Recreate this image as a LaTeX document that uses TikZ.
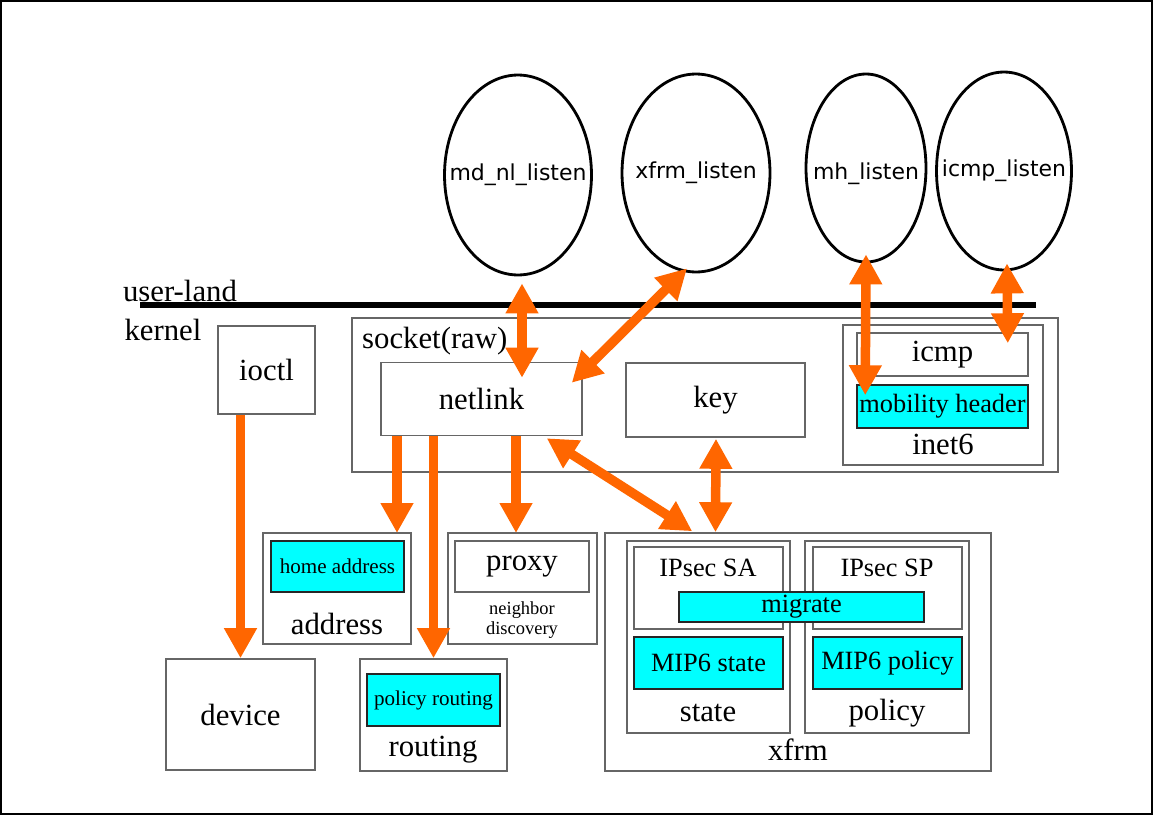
\documentclass[tikz,border=0pt]{standalone}
\usepackage{fontspec}
\setmainfont{Liberation Serif}
\newfontfamily\listenfont{DejaVu Sans}
\usetikzlibrary{positioning,arrows.meta,shapes.geometric,fit,calc}
\definecolor{flow}{HTML}{FF6600}
\definecolor{mip}{HTML}{00FFFF}
\tikzset{
  every node/.style={font=\fontsize{17.5}{21}\selectfont},
  box/.style={
    rectangle, draw=black!60, fill=white,
    line width=0.9pt, inner sep=1pt
  },
  frame/.style={box, inner sep=0pt},
  mipbox/.style={box, draw=black!85, fill=mip},
  listener/.style={ellipse, draw=black, line width=1.6pt, inner sep=0pt},
  listenlbl/.style={font=\listenfont\fontsize{12.5}{15}\selectfont},
  midlbl/.style={font=\fontsize{15}{18}\selectfont},
  smalllbl/.style={font=\fontsize{12}{14}\selectfont},
  tinylbl/.style={font=\fontsize{10.5}{11.5}\selectfont, align=center},
  flowarrow/.style={
    -{Triangle[length=0.6cm,width=0.62cm]},
    line width=0.19cm, draw=flow
  },
  bothways/.style={
    flowarrow,
    {Triangle[length=0.6cm,width=0.62cm]}-{Triangle[length=0.6cm,width=0.62cm]}
  },
}

\begin{document}
\begin{tikzpicture}[x=0.02cm, y=-0.02cm]
  \useasboundingbox (0,0) rectangle (1153,815);
  \draw[line width=0.04cm] (1,1) rectangle (1152,814);
  % user-land daemons
  \node[listener, minimum width=2.94cm, minimum height=4cm, label={[listenlbl]center:md\_nl\_listen}] (mdnl) at (518,175) {};
  \node[listener, minimum width=2.96cm, minimum height=3.96cm, label={[listenlbl]center:xfrm\_listen}] (xfrml) at (696,173) {};
  \node[listener, minimum width=2.4cm, minimum height=3.76cm, label={[listenlbl, yshift=-0.12cm]center:mh\_listen}] (mhl) at (866,168) {};
  \node[listener, minimum width=2.7cm, minimum height=3.96cm, label={[listenlbl]center:icmp\_listen}] (icmpl) at (1004,171) {};
  % border between user-land and kernel
  \coordinate (borderL) at (140,305);
  \coordinate (borderR) at (1036,305);
  \draw[line width=0.12cm] (borderL) -- (borderR);
  \node (userland) at (180,291) {user-land};
  \node (kernel) at (163,330) {kernel};
  % sockets
  \node[box, minimum width=1.94cm, minimum height=1.76cm] (ioctl) at (266.5,370) {ioctl};
  \node[frame, fit={(352,318) (1058,472)}] (socket) {};
  \node[anchor=west] (socketlbl) at (356,341) {socket(raw)};
  \node[box, minimum width=4.02cm, minimum height=1.46cm] (netlink) at (481.5,399) {netlink};
  \node[box, minimum width=3.58cm, minimum height=1.48cm] (key) at (715.5,400) {key};
  \node[frame, fit={(843,325) (1043,465)}] (inet6) {};
  \node[box, minimum width=3.42cm, minimum height=0.86cm] (icmp) at (942.5,354.5) {icmp};
  \node[mipbox, midlbl, minimum width=3.42cm, minimum height=0.86cm] (mobility) at (942.5,406.5) {mobility header};
  \node (inet6lbl) at (943,444) {inet6};
  % kernel subsystems
  \node[box, minimum width=2.98cm, minimum height=2.22cm] (device) at (240.5,714.5) {device};
  \node[frame, fit={(263,533) (411,644)}] (address) {};
  \node[mipbox, smalllbl, minimum width=2.66cm, minimum height=1.02cm] (homeaddr) at (337.5,566.5) {home address};
  \node (addresslbl) at (337,624) {address};
  \node[frame, fit={(448,533) (597,644)}] (proxy) {};
  \node[box, minimum width=2.68cm, minimum height=1.02cm] (proxyin) at (522,566.5) {proxy};
  \node[tinylbl] (ndisc) at (522,620) {neighbor\\discovery};
  \node[frame, fit={(360,659) (507,771)}] (routing) {};
  \node[mipbox, smalllbl, minimum width=2.66cm, minimum height=1.04cm] (polrouting) at (433.5,700) {policy routing};
  \node (routinglbl) at (433,750) {routing};
  % xfrm
  \node[frame, fit={(605,533) (991,771)}] (xfrm) {};
  \node (xfrmlbl) at (798,750) {xfrm};
  \node[frame, fit={(627,541) (790,733)}] (state) {};
  \node[frame, fit={(634,547) (783,629)}] (ipsecsa) {};
  \node[midlbl] (salbl) at (708,568) {IPsec SA};
  \node[mipbox, midlbl, minimum width=2.98cm, minimum height=1.04cm] (mipstate) at (708.5,663) {MIP6 state};
  \node (statelbl) at (708,713) {state};
  \node[frame, fit={(805,541) (969,733)}] (policy) {};
  \node[frame, fit={(813,547) (962,629)}] (ipsecsp) {};
  \node[midlbl] (splbl) at (887,568) {IPsec SP};
  \node[mipbox, midlbl, minimum width=2.98cm, minimum height=1.04cm] (mippolicy) at (887.5,663) {MIP6 policy};
  \node (policylbl) at (887,713) {policy};
  \node[mipbox, midlbl, minimum width=4.9cm, minimum height=0.6cm] (migrate) at (801.5,607) {migrate};
  % arrows
  \coordinate (toaddress) at (397,533);
  \coordinate (toproxy) at (516,533);
  \draw[bothways] ($(mdnl.south)+(4,7)$) -- ($(mdnl.south |- netlink.north)+(4,16)$);
  \draw[bothways] ($(xfrml.south)+(-9,-5)$) -- ($(netlink.north east)+(-11,21)$);
  \draw[bothways] ($(netlink.south east)+(-36,2)$) -- ($(xfrm.north west)+(88,-1)$);
  \draw[bothways] ($(key.south)+(0.5,1)$) -- (key.south |- xfrm.north);
  \draw[bothways] ($(mhl.south)+(0,-9)$) -- ($(mobility.north west)+(9,11)$);
  \draw[bothways] ($(icmpl.south)+(3,-8)$) -- ($(icmp.north east)+(-21,11)$);
  \draw[flowarrow] (ioctl.south -| device.north) -- (device.north);
  \draw[flowarrow] (netlink.south -| toaddress) -- (toaddress);
  \draw[flowarrow] (netlink.south -| routing.north) -- (routing.north);
  \draw[flowarrow] (netlink.south -| toproxy) -- (toproxy);
\end{tikzpicture}
\end{document}
